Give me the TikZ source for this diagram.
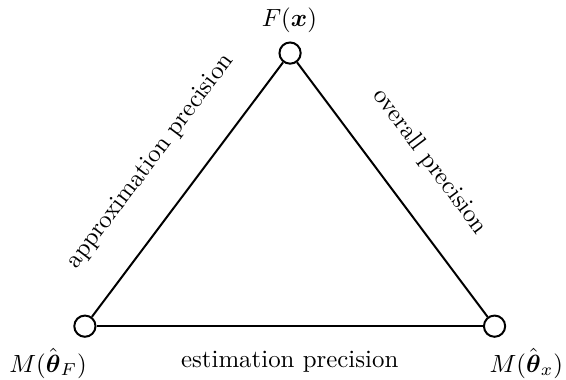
\documentclass[tikz,border=0pt]{standalone}
\usepackage{amsmath}
\usepackage{tikz}
\usetikzlibrary{positioning}
\tikzset{
  vtx/.style  ={draw, circle, thick, fill=white, minimum size=0.30cm, inner sep=0pt},
  edg/.style  ={thick},
  elbl/.style ={midway, sloped, above=0.37cm},
}

\begin{document}
\begin{tikzpicture}
  \useasboundingbox (0,0) rectangle (8.00,5.36);
  \node[vtx] (ftop) at (4.10,4.61) {};
  \node[vtx] (mleft) at (1.20,0.75) {};
  \node[vtx] (mright) at (6.99,0.75) {};

  \node[anchor=base] (ftxt) at (4.09,4.98) {$F(\boldsymbol{x})$};
  \node[anchor=base] (mltxt) at (0.68,0.10) {$M(\hat{\boldsymbol{\theta}}_F)$};
  \node[anchor=base] (mrtxt) at (7.44,0.10) {$M(\hat{\boldsymbol{\theta}}_x)$};

  \draw[edg] (mleft) -- (ftop) node[elbl] (apx) {approximation precision};
  \draw[edg] (ftop) -- (mright) node[elbl] (ovr) {overall precision};
  \draw[edg] (mleft) -- (mright) node[midway, below=0.22cm] (est) {estimation precision};
\end{tikzpicture}
\end{document}
